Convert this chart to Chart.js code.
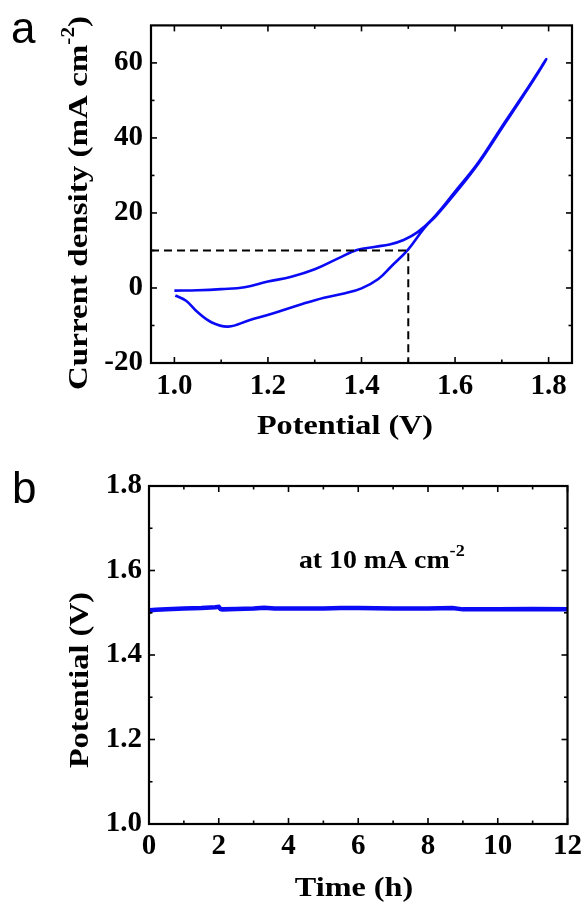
<!DOCTYPE html>
<html>
<head>
<meta charset="utf-8">
<script src="https://cdn.jsdelivr.net/npm/chart.js@4.4.1/dist/chart.umd.min.js"></script>
<style>
html, body { margin: 0; padding: 0; background: #fff; }
#wrap { position: relative; width: 587px; height: 903px; }
canvas { position: absolute; left: 0; }
#cvA { top: 0; }
#cvB { top: 450px; }
</style>
</head>
<body>
<div id="wrap">
  <canvas id="cvA" width="587" height="450"></canvas>
  <canvas id="cvB" width="587" height="453"></canvas>
</div>
<script>
// (a) CV loop, forward scan 1.0 -> 1.8 V then back to 1.0 V
var cvPotential = [1.00, 1.05, 1.10, 1.15, 1.20, 1.25, 1.30, 1.35, 1.39, 1.43, 1.46, 1.49, 1.52, 1.55, 1.60, 1.65, 1.70, 1.75, 1.795,
                   1.75, 1.70, 1.65, 1.60, 1.56, 1.535, 1.50, 1.464, 1.436, 1.40, 1.365, 1.32, 1.27, 1.21, 1.16, 1.115, 1.08, 1.05, 1.025, 1.002];
var cvCurrent   = [-0.7, -0.6, -0.3, 0.2, 1.7, 3.0, 5.0, 7.9, 10.1, 11.0, 11.6, 12.8, 14.9, 18.2, 25.7, 33.5, 43.0, 52.3, 61.0,
                   52.0, 42.6, 33.2, 25.2, 19.3, 16.1, 10.3, 5.8, 2.4, -0.1, -1.4, -2.6, -4.4, -6.8, -8.6, -10.3, -9.2, -6.5, -3.4, -2.0];
// dashed guide to 10 mA cm-2
var guidePotential = [0.95, 1.5, 1.5];
var guideCurrent   = [10, 10, -20];
var xTicksA = [1.0, 1.2, 1.4, 1.6, 1.8];
var xMinorA = [1.1, 1.3, 1.5, 1.7];
var yTicksA = [-20, 0, 20, 40, 60];
var yMinorA = [-10, 10, 30, 50];

// (b) chronopotentiometry at 10 mA cm-2
var timeH     = [0, 0.05, 0.2, 0.5, 1.0, 1.5, 1.9, 2.0, 2.05, 2.1, 2.5, 3.0, 3.3, 3.6, 4.0, 5.0, 5.5, 6.0, 7.0, 8.0, 8.7, 9.0, 10.0, 11.0, 12.0];
var potentialV = [1.500, 1.506, 1.507, 1.508, 1.510, 1.511, 1.513, 1.514, 1.509, 1.508, 1.509, 1.510, 1.512, 1.510, 1.510, 1.510, 1.511, 1.511, 1.510, 1.510, 1.511, 1.508, 1.508, 1.509, 1.508];
var xTicksB = [0, 2, 4, 6, 8, 10, 12];
var xMinorB = [1, 3, 5, 7, 9, 11];
var yTicksB = [1.0, 1.2, 1.4, 1.6, 1.8];
var yMinorB = [1.1, 1.3, 1.5, 1.7];

var SERIF = "'Liberation Serif', 'Times New Roman', serif";
var BLUE = '#0a0af5';

var toPts = function( xs, ys ){
    return xs.map(function(v, i){ return { x: v, y: ys[i] }; });
};

// draws text made of parts (for superscripts), optionally rotated / stretched
var drawRich = function( ctx, parts, x, y, angle, stretch, align ){
    ctx.save();
    ctx.translate(x, y);
    ctx.rotate(angle);
    ctx.scale(stretch, 1);
    var total = 0;
    parts.forEach(function(p){ ctx.font = p.font; p.w = ctx.measureText(p.text).width; total += p.w; });
    var cx = (align === 'left') ? 0 : -total / 2;
    ctx.textAlign = 'left';
    ctx.textBaseline = 'alphabetic';
    ctx.fillStyle = '#000';
    parts.forEach(function(p){ ctx.font = p.font; ctx.fillText(p.text, cx, -(p.rise || 0)); cx += p.w; });
    ctx.restore();
};

// box frame with inward ticks on all four sides
var frameTicks = {
    id: 'frameTicks',
    afterDatasetsDraw: function( chart, args, opts ){
        var ctx = chart.ctx, a = chart.chartArea;
        var xs = chart.scales.x, ys = chart.scales.y;
        ctx.save();
        ctx.strokeStyle = '#000';
        ctx.lineWidth = 1.6;
        var seg = function(x1, y1, x2, y2){ ctx.beginPath(); ctx.moveTo(x1, y1); ctx.lineTo(x2, y2); ctx.stroke(); };
        var tx = function(v, len){
            var p = xs.getPixelForValue(v);
            seg(p, a.bottom, p, a.bottom - len);
            seg(p, a.top, p, a.top + len);
        };
        var ty = function(v, len){
            var p = ys.getPixelForValue(v);
            seg(a.left, p, a.left + len, p);
            seg(a.right, p, a.right - len, p);
        };
        opts.xMajor.forEach(function(v){ tx(v, 6); });
        opts.xMinor.forEach(function(v){ tx(v, 3.5); });
        opts.yMajor.forEach(function(v){ ty(v, 6); });
        opts.yMinor.forEach(function(v){ ty(v, 3.5); });
        ctx.lineWidth = 2.2;
        ctx.strokeRect(a.left, a.top, a.right - a.left, a.bottom - a.top);
        ctx.restore();
    }
};

var axisOpts = function( min, max, ticks, fmt, size, pad ){
    return {
        type: 'linear',
        min: min,
        max: max,
        grid: { display: false, drawTicks: false },
        border: { display: false },
        afterBuildTicks: function(scale){ scale.ticks = ticks.map(function(v){ return { value: v }; }); },
        afterFit: function(scale){
            if( scale.isHorizontal() ){ scale.height = size; } else { scale.width = size; }
        },
        ticks: {
            autoSkip: false,
            maxRotation: 0,
            padding: pad,
            color: '#000',
            font: { family: SERIF, weight: 'bold', size: 29 },
            callback: function(v){ return fmt(v); }
        }
    };
};

var chartA = new Chart(document.getElementById('cvA').getContext('2d'), {
    type: 'line',
    data: {
        datasets: [
            {
                data: toPts(guidePotential, guideCurrent),
                borderColor: '#000',
                borderWidth: 2,
                borderDash: [8, 5],
                pointRadius: 0,
                tension: 0
            },
            {
                data: toPts(cvPotential, cvCurrent),
                borderColor: BLUE,
                borderWidth: 2.6,
                pointRadius: 0,
                tension: 0.4
            }
        ]
    },
    options: {
        responsive: false,
        animation: false,
        layout: { autoPadding: false, padding: { left: 0, top: 25, right: 15, bottom: 0 } },
        plugins: {
            legend: { display: false },
            tooltip: { enabled: false },
            frameTicks: { xMajor: xTicksA, xMinor: xMinorA, yMajor: yTicksA, yMinor: yMinorA }
        },
        scales: {
            x: axisOpts(0.95, 1.85, xTicksA, function(v){ return v.toFixed(1); }, 87, 6),
            y: axisOpts(-20, 70, yTicksA, function(v){ return String(v); }, 151, 8)
        }
    },
    plugins: [frameTicks, {
        id: 'textA',
        afterDraw: function(chart){
            var ctx = chart.ctx;
            var big = 'bold 28px ' + SERIF, sup = 'bold 18px ' + SERIF;
            drawRich(ctx, [{ text: 'a', font: '44px \'Liberation Sans\', Arial, sans-serif' }], 11, 43, 0, 1, 'left');
            drawRich(ctx, [{ text: 'Potential (V)', font: big }], 345, 434, 0, 1.15, 'center');
            drawRich(ctx, [
                { text: 'Current density (mA cm', font: big },
                { text: '-2', font: sup, rise: 13 },
                { text: ')', font: big }
            ], 87, 203, -Math.PI / 2, 1.18, 'center');
        }
    }]
});

var chartB = new Chart(document.getElementById('cvB').getContext('2d'), {
    type: 'line',
    data: {
        datasets: [
            {
                data: toPts(timeH, potentialV),
                borderColor: BLUE,
                borderWidth: 4.5,
                pointRadius: 0,
                tension: 0
            }
        ]
    },
    options: {
        responsive: false,
        animation: false,
        layout: { autoPadding: false, padding: { left: 0, top: 36, right: 16, bottom: 0 } },
        plugins: {
            legend: { display: false },
            tooltip: { enabled: false },
            frameTicks: { xMajor: xTicksB, xMinor: xMinorB, yMajor: yTicksB, yMinor: yMinorB }
        },
        scales: {
            x: axisOpts(0, 12, xTicksB, function(v){ return String(v); }, 79, 5),
            y: axisOpts(1.0, 1.8, yTicksB, function(v){ return v.toFixed(1); }, 149, 7)
        }
    },
    plugins: [frameTicks, {
        id: 'textB',
        afterDraw: function(chart){
            var ctx = chart.ctx;
            var big = 'bold 28px ' + SERIF, sup = 'bold 17px ' + SERIF;
            var xs = chart.scales.x, ys = chart.scales.y;
            drawRich(ctx, [{ text: 'b', font: '44px \'Liberation Sans\', Arial, sans-serif' }], 12, 53, 0, 1, 'left');
            drawRich(ctx, [{ text: 'Time (h)', font: big }], 354, 446, 0, 1.15, 'center');
            drawRich(ctx, [{ text: 'Potential (V)', font: big }], 88, 230, -Math.PI / 2, 1.15, 'center');
            // annotation anchored in data coordinates
            drawRich(ctx, [
                { text: 'at 10 mA cm', font: 'bold 26px ' + SERIF },
                { text: '-2', font: sup, rise: 12 }
            ], xs.getPixelForValue(4.3), ys.getPixelForValue(1.606), 0, 1.07, 'left');
        }
    }]
});
</script>
</body>
</html>
